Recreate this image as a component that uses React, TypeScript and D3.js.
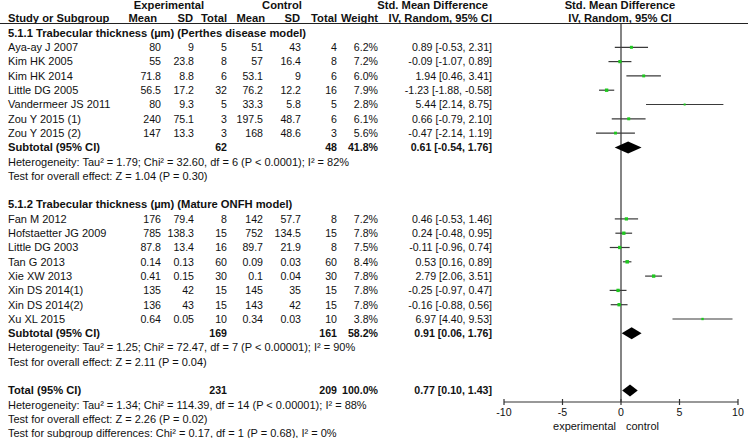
import React from "react";
import * as d3 from "d3";

// ---------- data ----------
const g1Studies = ["Aya-ay J 2007", "Kim HK 2005", "Kim HK 2014", "Little DG 2005", "Vandermeer JS 2011", "Zou Y 2015 (1)", "Zou Y 2015 (2)"];
const g1ExpMean = ["80", "55", "71.8", "56.5", "80", "240", "147"];
const g1ExpSD = ["9", "23.8", "8.8", "17.2", "9.3", "75.1", "13.3"];
const g1ExpN = ["5", "8", "6", "32", "5", "3", "3"];
const g1CtlMean = ["51", "57", "53.1", "76.2", "33.3", "197.5", "168"];
const g1CtlSD = ["43", "16.4", "9", "12.2", "5.8", "48.7", "48.6"];
const g1CtlN = ["4", "8", "6", "16", "5", "6", "3"];
const g1Weight = [6.2, 7.2, 6.0, 7.9, 2.8, 6.1, 5.6];
const g1Est = [0.89, -0.09, 1.94, -1.23, 5.44, 0.66, -0.47];
const g1Lo = [-0.53, -1.07, 0.46, -1.88, 2.14, -0.79, -2.14];
const g1Hi = [2.31, 0.89, 3.41, -0.58, 8.75, 2.10, 1.19];

const g2Studies = ["Fan M 2012", "Hofstaetter JG 2009", "Little DG 2003", "Tan G 2013", "Xie XW 2013", "Xin DS 2014(1)", "Xin DS 2014(2)", "Xu XL 2015"];
const g2ExpMean = ["176", "785", "87.8", "0.14", "0.41", "135", "136", "0.64"];
const g2ExpSD = ["79.4", "138.3", "13.4", "0.13", "0.15", "42", "43", "0.05"];
const g2ExpN = ["8", "15", "16", "60", "30", "15", "15", "10"];
const g2CtlMean = ["142", "752", "89.7", "0.09", "0.1", "145", "143", "0.34"];
const g2CtlSD = ["57.7", "134.5", "21.9", "0.03", "0.04", "35", "42", "0.03"];
const g2CtlN = ["8", "15", "8", "60", "30", "15", "15", "10"];
const g2Weight = [7.2, 7.8, 7.5, 8.4, 7.8, 7.8, 7.8, 3.8];
const g2Est = [0.46, 0.24, -0.11, 0.53, 2.79, -0.25, -0.16, 6.97];
const g2Lo = [-0.53, -0.48, -0.96, 0.16, 2.06, -0.97, -0.88, 4.40];
const g2Hi = [1.46, 0.95, 0.74, 0.89, 3.51, 0.47, 0.56, 9.53];

// subtotals: [group1, group2, total]
const sumLabels = ["Subtotal (95% CI)", "Subtotal (95% CI)", "Total (95% CI)"];
const sumExpN = ["62", "169", "231"];
const sumCtlN = ["48", "161", "209"];
const sumWeight = ["41.8%", "58.2%", "100.0%"];
const sumEst = [0.61, 0.91, 0.77];
const sumLo = [-0.54, 0.06, 0.10];
const sumHi = [1.76, 1.76, 1.43];

const groupTitles = [
  "5.1.1 Trabecular thickness (\u00b5m) (Perthes disease model)",
  "5.1.2 Trabecular thickness (\u00b5m) (Mature ONFH model)",
];
const g1Notes = [
  "Heterogeneity: Tau\u00b2 = 1.79; Chi\u00b2 = 32.60, df = 6 (P < 0.0001); I\u00b2 = 82%",
  "Test for overall effect: Z = 1.04 (P = 0.30)",
];
const g2Notes = [
  "Heterogeneity: Tau\u00b2 = 1.25; Chi\u00b2 = 72.47, df = 7 (P < 0.00001); I\u00b2 = 90%",
  "Test for overall effect: Z = 2.11 (P = 0.04)",
];
const totalNotes = [
  "Heterogeneity: Tau\u00b2 = 1.34; Chi\u00b2 = 114.39, df = 14 (P < 0.00001); I\u00b2 = 88%",
  "Test for overall effect: Z = 2.26 (P = 0.02)",
  "Test for subgroup differences: Chi\u00b2 = 0.17, df = 1 (P = 0.68), I\u00b2 = 0%",
];
const axisTicks = [-10, -5, 0, 5, 10];

// ---------- layout ----------
const W = 750;
const H = 438;
const FONT = "'Liberation Sans', Arial, sans-serif";
const FS_TXT = 11.0;
const FS_BOLD = 11.2;
const FS_NUM = 10.6;
const rowY = (i: number) => 33 + i * 14.3;
const col = { name: 8, expMean: 161, expSD: 194, expN: 227, ctlMean: 263, ctlSD: 301, ctlN: 337, weight: 378, ci: 492 };
const x = d3.scaleLinear().domain([-10, 10]).range([504, 738]);
const axisY = 402;
const TXT = "#111";
const GREEN = "#1ec81e";

const f2 = (v: number) => v.toFixed(2);
const ciText = (e: number, l: number, h: number) => `${f2(e)} [${f2(l)}, ${f2(h)}]`;

type Study = { name: string; em: string; es: string; en: string; cm: string; cs: string; cn: string; w: number; e: number; l: number; h: number };

function mk(names: string[], em: string[], es: string[], en: string[], cm: string[], cs: string[], cn: string[], w: number[], e: number[], l: number[], h: number[]): Study[] {
  return names.map((n, i) => ({ name: n, em: em[i], es: es[i], en: en[i], cm: cm[i], cs: cs[i], cn: cn[i], w: w[i], e: e[i], l: l[i], h: h[i] }));
}

const g1 = mk(g1Studies, g1ExpMean, g1ExpSD, g1ExpN, g1CtlMean, g1CtlSD, g1CtlN, g1Weight, g1Est, g1Lo, g1Hi);
const g2 = mk(g2Studies, g2ExpMean, g2ExpSD, g2ExpN, g2CtlMean, g2CtlSD, g2CtlN, g2Weight, g2Est, g2Lo, g2Hi);

function T(props: { x: number; y: number; children: React.ReactNode; anchor?: string; bold?: boolean; num?: boolean }) {
  const fs = props.num ? FS_NUM : props.bold ? FS_BOLD : FS_TXT;
  return (
    <text x={props.x} y={props.y + 3.8} textAnchor={props.anchor || "start"} fontWeight={props.bold ? "bold" : "normal"} fill={TXT} fontFamily={FONT} fontSize={fs}>
      {props.children}
    </text>
  );
}

function StudyRow({ s, i }: { s: Study; i: number }) {
  const y = rowY(i);
  const side = 1.2 * Math.sqrt(s.w);
  return (
    <g>
      <T x={col.name} y={y}>{s.name}</T>
      <T x={col.expMean} y={y} anchor="end" num>{s.em}</T>
      <T x={col.expSD} y={y} anchor="end" num>{s.es}</T>
      <T x={col.expN} y={y} anchor="end" num>{s.en}</T>
      <T x={col.ctlMean} y={y} anchor="end" num>{s.cm}</T>
      <T x={col.ctlSD} y={y} anchor="end" num>{s.cs}</T>
      <T x={col.ctlN} y={y} anchor="end" num>{s.cn}</T>
      <T x={col.weight} y={y} anchor="end" num>{s.w.toFixed(1) + "%"}</T>
      <T x={col.ci} y={y} anchor="end" num>{ciText(s.e, s.l, s.h)}</T>
      <line x1={x(s.l)} x2={x(s.h)} y1={y} y2={y} stroke="#3a3a3a" strokeWidth={1.2} />
      <rect x={x(s.e) - side / 2} y={y - side / 2} width={side} height={side} fill={GREEN} />
    </g>
  );
}

function SumRow({ k, i }: { k: number; i: number }) {
  const y = rowY(i);
  const hh = 6;
  const pts = [
    [x(sumLo[k]), y],
    [x(sumEst[k]), y - hh],
    [x(sumHi[k]), y],
    [x(sumEst[k]), y + hh],
  ];
  return (
    <g>
      <T x={col.name} y={y} bold>{sumLabels[k]}</T>
      <T x={col.expN} y={y} anchor="end" bold num>{sumExpN[k]}</T>
      <T x={col.ctlN} y={y} anchor="end" bold num>{sumCtlN[k]}</T>
      <T x={col.weight} y={y} anchor="end" bold num>{sumWeight[k]}</T>
      <T x={col.ci} y={y} anchor="end" bold num>{ciText(sumEst[k], sumLo[k], sumHi[k])}</T>
      <polygon points={pts.map((p) => p.join(",")).join(" ")} fill="#000" />
    </g>
  );
}

export default function App() {
  const g1Start = 1;
  const sub1 = g1Start + g1.length;
  const g2Title = sub1 + 4;
  const g2Start = g2Title + 1;
  const sub2 = g2Start + g2.length;
  const totalRow = sub2 + 4;

  return (
    <svg width={W} height={H} style={{ position: "absolute", left: 0, top: 0, background: "#fff" }}>
      {/* header */}
      <T x={169} y={5} anchor="middle" bold>Experimental</T>
      <T x={282} y={5} anchor="middle" bold>Control</T>
      <T x={488} y={5} anchor="end" bold>Std. Mean Difference</T>
      <T x={620} y={5} anchor="middle" bold>Std. Mean Difference</T>
      <T x={col.name} y={18} bold>Study or Subgroup</T>
      <T x={157} y={18} anchor="end" bold>Mean</T>
      <T x={193} y={18} anchor="end" bold>SD</T>
      <T x={227} y={18} anchor="end" bold>Total</T>
      <T x={265} y={18} anchor="end" bold>Mean</T>
      <T x={300} y={18} anchor="end" bold>SD</T>
      <T x={337} y={18} anchor="end" bold>Total</T>
      <T x={378} y={18} anchor="end" bold>Weight</T>
      <T x={492} y={18} anchor="end" bold>IV, Random, 95% CI</T>
      <T x={620} y={18} anchor="middle" bold>IV, Random, 95% CI</T>
      <line x1={0} x2={748} y1={23.5} y2={23.5} stroke="#222" strokeWidth={1.2} />

      {/* zero line */}
      <line x1={x(0)} x2={x(0)} y1={23.5} y2={axisY} stroke="#333" strokeWidth={1.2} />

      {/* group 1 */}
      <T x={col.name} y={rowY(0)} bold>{groupTitles[0]}</T>
      {g1.map((s, i) => <StudyRow key={s.name} s={s} i={g1Start + i} />)}
      <SumRow k={0} i={sub1} />
      {g1Notes.map((n, i) => <T key={n} x={col.name} y={rowY(sub1 + 1 + i)}>{n}</T>)}

      {/* group 2 */}
      <T x={col.name} y={rowY(g2Title)} bold>{groupTitles[1]}</T>
      {g2.map((s, i) => <StudyRow key={s.name} s={s} i={g2Start + i} />)}
      <SumRow k={1} i={sub2} />
      {g2Notes.map((n, i) => <T key={n} x={col.name} y={rowY(sub2 + 1 + i)}>{n}</T>)}

      {/* total */}
      <SumRow k={2} i={totalRow} />
      {totalNotes.map((n, i) => <T key={n} x={col.name} y={rowY(totalRow + 1 + i)}>{n}</T>)}

      {/* axis */}
      <line x1={x(-10)} x2={x(10)} y1={axisY} y2={axisY} stroke="#333" strokeWidth={1.2} />
      {axisTicks.map((t) => (
        <g key={t}>
          <line x1={x(t)} x2={x(t)} y1={axisY - 3} y2={axisY + 3} stroke="#333" strokeWidth={1.2} />
          <T x={x(t)} y={412} anchor="middle" num>{String(t)}</T>
        </g>
      ))}
      <T x={616} y={426} anchor="end">experimental</T>
      <T x={626} y={426}>control</T>
    </svg>
  );
}
